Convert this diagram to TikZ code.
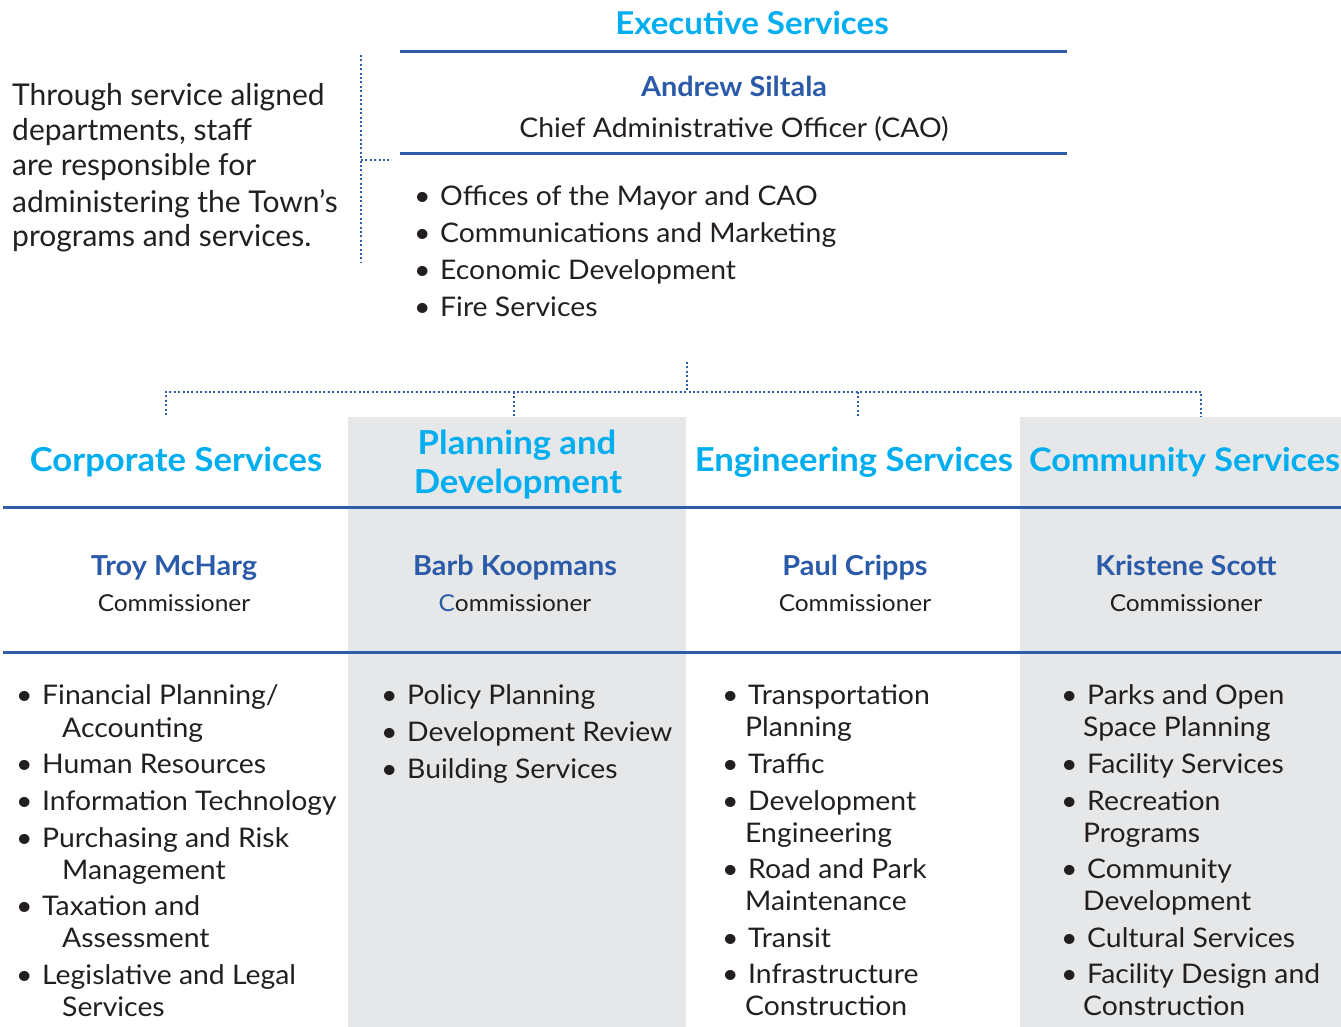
\documentclass[tikz,border=0pt]{standalone}
\usepackage{fontspec}
\setmainfont{Lato}
\newfontfamily\wide[FakeStretch=1.05]{Lato}
\definecolor{headcyan}{HTML}{00AEEF}
\definecolor{namenavy}{HTML}{2B5BA8}
\definecolor{ruleblue}{HTML}{2F5DA9}
\definecolor{bodygray}{HTML}{231F20}
\definecolor{colgray}{HTML}{E6E7E8}
\newcommand{\bul}{\makebox[26pt][l]{•}}
\tikzset{
	head/.style={font=\wide\bfseries\fontsize{33}{33}\selectfont, text=headcyan, inner sep=0pt, anchor=base},
	person/.style={font=\wide\bfseries\fontsize{27.5}{27.5}\selectfont, text=namenavy, inner sep=0pt, anchor=base},
	role/.style={font=\wide\fontsize{23.3}{23.3}\selectfont, text=bodygray, inner sep=0pt, anchor=base},
	item/.style={font=\wide\fontsize{27}{27}\selectfont, text=bodygray, inner sep=0pt, anchor=base west},
	intro/.style={font=\fontsize{30}{30}\selectfont, text=bodygray, inner sep=0pt, anchor=base west},
	rule/.style={draw=ruleblue, line width=3pt},
	dots/.style={draw=ruleblue, line width=2pt, dash pattern=on 2pt off 2.4pt}
}
\begin{document}
\begin{tikzpicture}[x=1pt,y=-1pt]
	\useasboundingbox (0,0) rectangle (1341,1027);
	% grey columns
	\fill[colgray] (348,417) rectangle (686,1027);
	\fill[colgray] (1020,417) rectangle (1341,1027);

	% intro text
	\node[intro] (intro1) at (12,106) {Through service aligned};
	\node[intro] (intro2) at (12,141) {departments, staff};
	\node[intro] (intro3) at (12,176) {are responsible for};
	\node[intro] (intro4) at (12,212) {administering the Town’s};
	\node[intro] (intro5) at (12,247) {programs and services.};
	\coordinate (bracetop) at (361,55);
	\coordinate (bracemid) at (361,160);
	\coordinate (bracebot) at (361,262);
	\coordinate (braceend) at (389,160);
	\draw[dots] (bracetop) -- (bracebot);
	\draw[dots] (bracemid) -- (braceend);

	% executive services
	\node[head, font=\wide\bfseries\fontsize{31.5}{31.5}\selectfont] (exec) at (752,35) {Executive Services};
	\draw[rule] (400,52) -- (1067,52);
	\node[person] (cao) at (734,97) {Andrew Siltala};
	\node[role, font=\wide\fontsize{27}{27}\selectfont] (caorole) at (734,138) {Chief Administrative Officer (CAO)};
	\draw[rule] (400,154) -- (1067,154);
	\node[item] (ex1) at (414,206) {\bul Offices of the Mayor and CAO};
	\node[item] (ex2) at (414,243) {\bul Communications and Marketing};
	\node[item] (ex3) at (414,279) {\bul Economic Development};
	\node[item] (ex4) at (414,316) {\bul Fire Services};

	% dotted tree
	\coordinate (treetop) at (687,362);
	\coordinate (hub) at (687,392);
	\coordinate (corpknee) at (166,392);
	\coordinate (plannknee) at (514,392);
	\coordinate (engknee) at (858,392);
	\coordinate (commknee) at (1201,392);
	\coordinate (corpdrop) at (166,415);
	\coordinate (planndrop) at (514,417);
	\coordinate (engdrop) at (858,417);
	\coordinate (commdrop) at (1201,417);
	\draw[dots] (treetop) -- (hub);
	\draw[dots] (corpdrop) -- (corpknee) -- (commknee) -- (commdrop);
	\draw[dots] (plannknee) -- (planndrop);
	\draw[dots] (engknee) -- (engdrop);

	% column heads
	\node[head] (corp) at (176,471) {Corporate Services};
	\node[head] (plann1) at (517,454) {Planning and};
	\node[head] (plann2) at (518,493) {Development};
	\node[head] (eng) at (854,471) {Engineering Services};
	\node[head, anchor=base west, font=\wide\bfseries\fontsize{32.5}{32.5}\selectfont] (comm) at (1029,471) {Community Services};
	\draw[rule] (3,507) -- (1341,507);

	% commissioners
	\node[person] (corpname) at (174,575) {Troy McHarg};
	\node[role] (corprole) at (174,611) {Commissioner};
	\node[person] (plannname) at (515,575) {Barb Koopmans};
	\node[role] (plannrole) at (515,611) {{\color{namenavy}C}ommissioner};
	\node[person] (engname) at (855,575) {Paul Cripps};
	\node[role] (engrole) at (855,611) {Commissioner};
	\node[person] (commname) at (1186,575) {Kristene Scott};
	\node[role] (commrole) at (1186,611) {Commissioner};
	\draw[rule] (3,652) -- (1341,652);

	% corporate services list
	\node[item] (corp1) at (16,704) {\bul Financial Planning/};
	\node[item] (corp1b) at (62,737) {Accounting};
	\node[item] (corp2) at (16,773) {\bul Human Resources};
	\node[item] (corp3) at (16,810) {\bul Information Technology};
	\node[item] (corp4) at (16,847) {\bul Purchasing and Risk};
	\node[item] (corp4b) at (62,879) {Management};
	\node[item] (corp5) at (16,915) {\bul Taxation and};
	\node[item] (corp5b) at (62,947) {Assessment};
	\node[item] (corp6) at (16,984) {\bul Legislative and Legal};
	\node[item] (corp6b) at (62,1016) {Services};

	% planning and development list
	\node[item] (plann1i) at (381,704) {\bul Policy Planning};
	\node[item] (plann2i) at (381,741) {\bul Development Review};
	\node[item] (plann3i) at (381,778) {\bul Building Services};

	% engineering services list
	\node[item] (eng1) at (722,704) {\bul Transportation};
	\node[item] (eng1b) at (745,736) {Planning};
	\node[item] (eng2) at (722,773) {\bul Traffic};
	\node[item] (eng3) at (722,810) {\bul Development};
	\node[item] (eng3b) at (745,842) {Engineering};
	\node[item] (eng4) at (722,878) {\bul Road and Park};
	\node[item] (eng4b) at (745,910) {Maintenance};
	\node[item] (eng5) at (722,947) {\bul Transit};
	\node[item] (eng6) at (722,983) {\bul Infrastructure};
	\node[item] (eng6b) at (745,1015) {Construction};

	% community services list
	\node[item] (comm1) at (1061,704) {\bul Parks and Open};
	\node[item] (comm1b) at (1083,736) {Space Planning};
	\node[item] (comm2) at (1061,773) {\bul Facility Services};
	\node[item] (comm3) at (1061,810) {\bul Recreation};
	\node[item] (comm3b) at (1083,842) {Programs};
	\node[item] (comm4) at (1061,878) {\bul Community};
	\node[item] (comm4b) at (1083,910) {Development};
	\node[item] (comm5) at (1061,947) {\bul Cultural Services};
	\node[item] (comm6) at (1061,983) {\bul Facility Design and};
	\node[item] (comm6b) at (1083,1015) {Construction};
\end{tikzpicture}
\end{document}
